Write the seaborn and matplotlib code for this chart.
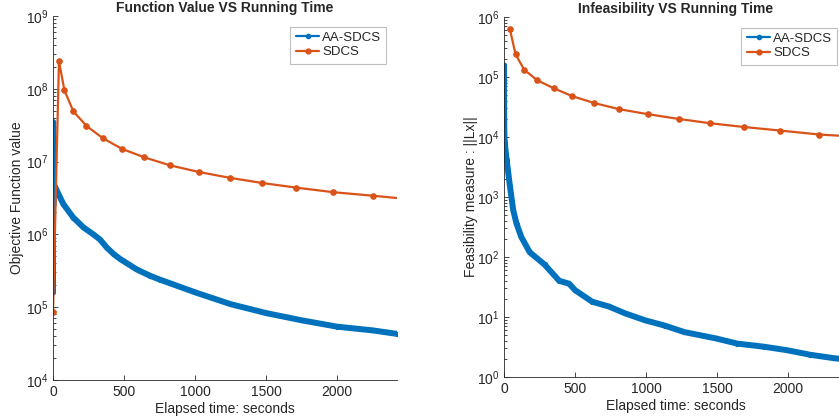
import matplotlib
matplotlib.use("Agg")
import matplotlib.pyplot as plt
from matplotlib.lines import Line2D
from matplotlib.ticker import NullFormatter
import pandas as pd
import seaborn as sns

sns.set_style("ticks")
plt.rcParams["font.family"] = ["Liberation Sans", "DejaVu Sans"]
plt.rcParams["mathtext.fontset"] = "custom"
plt.rcParams["mathtext.rm"] = "Liberation Sans"

BLUE = "#0072BD"
ORANGE = "#D95319"
GREY = "#262626"

# left panel: objective value vs elapsed time
obj_aa_t = [0, 1, 2, 3, 14, 73, 143, 214, 284, 331, 378, 430, 472, 589, 683,
            750, 1000, 1250, 1500, 1750, 2000, 2250, 2420]
obj_aa_v = [1.6e5, 3.5e7, 2.5e6, 5.0e6, 4.5e6, 2.6e6, 1.7e6, 1.25e6, 1.0e6,
            8.5e5, 6.6e5, 5.3e5, 4.6e5, 3.3e5, 2.7e5, 2.4e5, 1.6e5, 1.1e5,
            8.3e4, 6.6e4, 5.4e4, 4.8e4, 4.3e4]
obj_sd_t = [0, 42, 80, 143, 235, 350, 484, 639, 822, 1026, 1242, 1467, 1707,
            1972, 2249, 2540]
obj_sd_v = [8.5e4, 2.4e8, 9.6e7, 4.9e7, 3.1e7, 2.1e7, 1.5e7, 1.15e7, 8.9e6,
            7.2e6, 6.0e6, 5.1e6, 4.4e6, 3.8e6, 3.4e6, 3.0e6]

# right panel: infeasibility ||Lx|| vs elapsed time
inf_aa_t = [0, 1, 2, 5, 19, 42, 65, 88, 122, 181, 285, 389, 458, 500, 620,
            736, 852, 993, 1130, 1269, 1490, 1642, 1828, 1990, 2153, 2326, 2420]
inf_aa_v = [1.57e5, 3.0e4, 1.3e4, 8.0e3, 4.1e3, 1.5e3, 6.0e2, 3.6e2, 2.15e2,
            1.2e2, 75, 40, 36, 28, 18, 15, 11.5, 8.8, 7.2, 5.6, 4.4, 3.6, 3.2,
            2.8, 2.35, 2.05, 1.95]
inf_sd_t = [42, 81, 141, 234, 350, 479, 632, 812, 1014, 1229, 1447, 1686,
            1944, 2217, 2510]
inf_sd_v = [6.2e5, 2.4e5, 1.33e5, 8.8e4, 6.5e4, 4.8e4, 3.7e4, 2.9e4, 2.4e4,
            2.0e4, 1.7e4, 1.47e4, 1.28e4, 1.1e4, 1.0e4]

obj_df = pd.DataFrame({"t": obj_aa_t + obj_sd_t,
                       "v": obj_aa_v + obj_sd_v,
                       "method": ["AA-SDCS"] * len(obj_aa_t) + ["SDCS"] * len(obj_sd_t)})
inf_df = pd.DataFrame({"t": inf_aa_t + inf_sd_t,
                       "v": inf_aa_v + inf_sd_v,
                       "method": ["AA-SDCS"] * len(inf_aa_t) + ["SDCS"] * len(inf_sd_t)})

fig = plt.figure(figsize=(8.39, 4.19), dpi=100)
W, H = 839, 419
ax1 = fig.add_axes([53 / W, (H - 380) / H, 344 / W, 364 / H])
ax2 = fig.add_axes([504 / W, (H - 377) / H, 344 / W, 360 / H])


def draw(ax, df, ylim, title, ylabel, ylabelpad):
    aa = df[df["method"] == "AA-SDCS"]
    sd = df[df["method"] == "SDCS"]
    sns.lineplot(data=aa, x="t", y="v", sort=False, estimator=None, color=BLUE,
                 lw=4.3, marker="o", ms=3, mec=BLUE, ax=ax, legend=False,
                 solid_joinstyle="round", solid_capstyle="round")
    sns.lineplot(data=sd, x="t", y="v", sort=False, estimator=None, color=ORANGE,
                 lw=1.6, marker="o", ms=4, mec=ORANGE, ax=ax, legend=False)
    ax.set_yscale("log")
    ax.set_xlim(0, 2420)
    ax.set_ylim(*ylim)
    ax.set_xticks([0, 500, 1000, 1500, 2000])
    ax.yaxis.set_minor_formatter(NullFormatter())
    ax.set_title(title, fontsize=10, fontweight="bold", pad=3)
    ax.set_xlabel("Elapsed time: seconds", fontsize=10, color=GREY, labelpad=2)
    ax.set_ylabel(ylabel, fontsize=10, color=GREY, labelpad=ylabelpad)
    for side in ("top", "right"):
        ax.spines[side].set_visible(False)
    for side in ("left", "bottom"):
        ax.spines[side].set_color(GREY)
        ax.spines[side].set_linewidth(0.6)
    ax.tick_params(which="both", direction="in", colors=GREY, labelsize=10, width=0.6)
    ax.tick_params(which="major", length=3.5)
    ax.tick_params(which="minor", length=2)
    handles = [Line2D([], [], color=BLUE, lw=1.6, marker="o", ms=3),
               Line2D([], [], color=ORANGE, lw=1.6, marker="o", ms=3.5)]
    leg = ax.legend(handles, ["AA-SDCS", "SDCS"], loc="upper right", fontsize=9.5,
                    frameon=True, fancybox=False, borderaxespad=0.8,
                    handlelength=1.8, handletextpad=0.2, borderpad=0.4,
                    labelspacing=0.15)
    leg.get_frame().set_edgecolor("#b0b0b0")
    leg.get_frame().set_linewidth(0.8)


draw(ax1, obj_df, (1e4, 1e9), "Function Value VS Running Time",
     "Objective Function value", 1)
draw(ax2, inf_df, (1e0, 1e6), "Infeasibility VS Running Time",
     "Feasibility measure : ||Lx||", -1)

fig.savefig("out.png", dpi=100)
